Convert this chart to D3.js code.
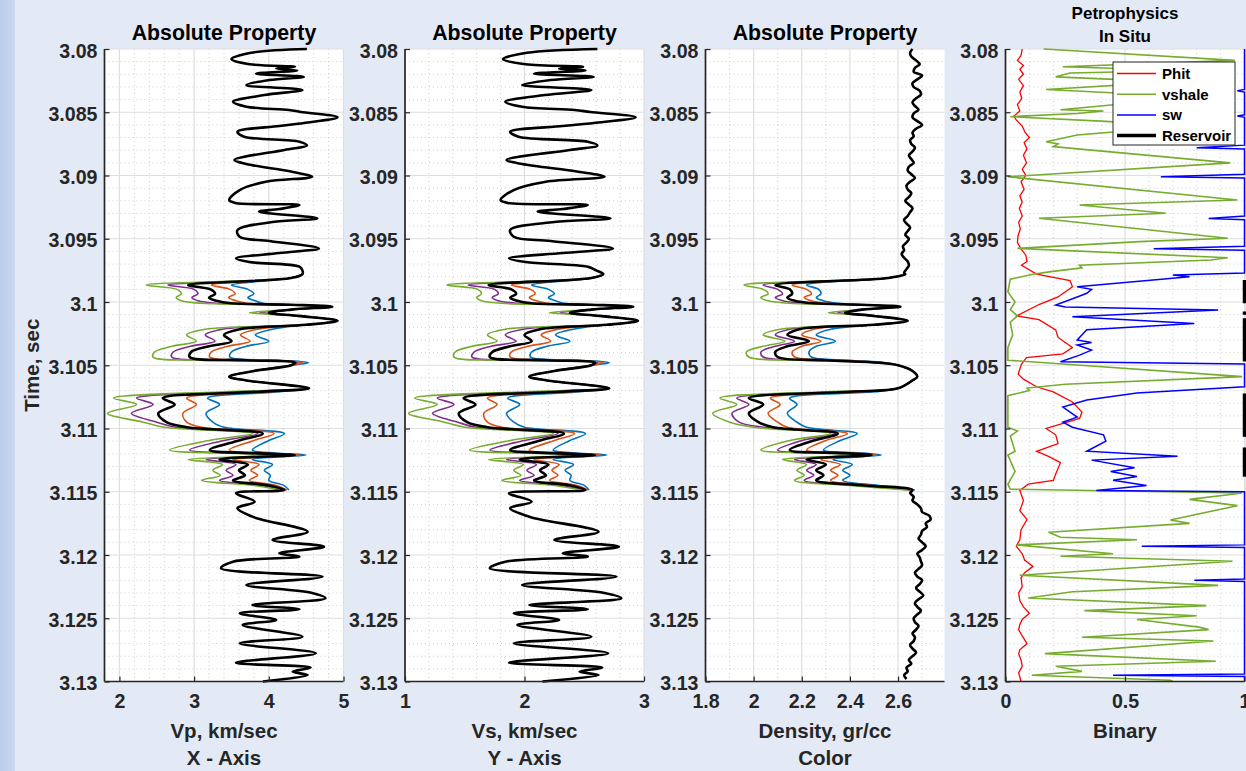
<!DOCTYPE html>
<html>
<head>
<meta charset="utf-8">
<script src="https://cdn.jsdelivr.net/npm/d3@7"></script>
<style>
  html, body { margin: 0; padding: 0; background: #e4eaf5; }
  svg { display: block; font-family: "Liberation Sans", Arial, Helvetica, sans-serif; }
</style>
</head>
<body>
<svg id="chart" width="1246" height="771"></svg>
<script>
// ---------------- Time axis ----------------
const timeTicks = [3.08, 3.085, 3.09, 3.095, 3.1, 3.105, 3.11, 3.115, 3.12, 3.125, 3.13];
const timeTickLabels = ["3.08", "3.085", "3.09", "3.095", "3.1", "3.105", "3.11", "3.115", "3.12", "3.125", "3.13"];

// ---------------- X tick labels per track ----------------
const vpTicks = [2, 3, 4, 5];
const vsTicks = [1, 2, 3];
const rhoTicks = [1.8, 2, 2.2, 2.4, 2.6];
const binTicks = [0, 0.5, 1];
const vpTickLabels = ["2", "3", "4", "5"];
const vsTickLabels = ["1", "2", "3"];
const rhoTickLabels = ["1.8", "2", "2.2", "2.4", "2.6"];
const binTickLabels = ["0", "0.5", "1"];

// ---------------- In-situ logs above the substituted interval ----------------
const vpTopTime = [3.0800, 3.0803, 3.0808, 3.0812, 3.0814, 3.08155, 3.0817, 3.08195, 3.0822, 3.08245, 3.08285, 3.08324, 3.08364, 3.08417, 3.08456, 3.08482, 3.08498, 3.0854, 3.08585, 3.08609, 3.08654, 3.08693, 3.08733, 3.08763, 3.08798, 3.08877, 3.08909, 3.0897, 3.0901, 3.09049, 3.09115, 3.09194, 3.09217, 3.09233, 3.09265, 3.09286, 3.09338, 3.09368, 3.09431, 3.09484, 3.09518, 3.09576, 3.09613, 3.09655, 3.09684, 3.09721, 3.0975];
const vpTop = [4.51, 3.76, 3.50, 3.74, 4.35, 4.10, 4.38, 3.83, 4.47, 4.01, 3.70, 4.45, 3.94, 3.52, 3.70, 4.27, 4.43, 4.92, 4.47, 4.14, 3.58, 3.67, 4.41, 4.51, 4.21, 3.54, 3.70, 4.31, 4.58, 3.96, 3.61, 3.47, 3.55, 4.41, 4.14, 3.87, 4.65, 4.05, 3.58, 3.61, 4.01, 4.67, 4.14, 3.56, 3.74, 4.41, 4.45];
const vsTop = [2.61, 2.02, 1.82, 2.01, 2.49, 2.29, 2.51, 2.08, 2.58, 2.22, 1.98, 2.56, 2.17, 1.84, 1.98, 2.42, 2.55, 2.93, 2.58, 2.32, 1.88, 1.95, 2.53, 2.61, 2.38, 1.85, 1.98, 2.45, 2.67, 2.18, 1.91, 1.80, 1.86, 2.53, 2.32, 2.11, 2.72, 2.25, 1.88, 1.91, 2.22, 2.74, 2.32, 1.87, 2.01, 2.53, 2.60];

// ---------------- In-situ logs below the substituted interval ----------------
const vpBaseTime = [3.11512, 3.11579, 3.1163, 3.11697, 3.11723, 3.11816, 3.11881, 3.11934, 3.11987, 3.12013, 3.12053, 3.12105, 3.12171, 3.12237, 3.1230, 3.12342, 3.12395, 3.12429, 3.12461, 3.12514, 3.12553, 3.12646, 3.12698, 3.12777, 3.12851, 3.1289, 3.12922, 3.12949, 3.1300];
const vpBase = [3.56, 3.81, 3.58, 3.78, 3.92, 4.52, 4.05, 4.74, 4.14, 4.41, 3.52, 3.36, 4.72, 3.70, 4.58, 4.76, 3.78, 4.41, 3.61, 4.10, 3.65, 4.45, 3.61, 4.63, 3.56, 4.56, 4.32, 4.52, 3.92];
const vsBase = [1.87, 2.06, 1.88, 2.04, 2.15, 2.62, 2.25, 2.79, 2.32, 2.53, 1.84, 1.71, 2.77, 1.98, 2.67, 2.81, 2.04, 2.53, 1.91, 2.29, 1.94, 2.56, 1.91, 2.70, 1.87, 2.65, 2.46, 2.62, 2.15];

// Density log, regularly sampled outside the substituted interval
const rhoStep = 0.0003;
const rhoTopStart = 3.0800;
const rhoTop = [2.66, 2.65, 2.655, 2.675, 2.69, 2.67, 2.665, 2.70, 2.68, 2.66, 2.665, 2.69, 2.695, 2.675, 2.66, 2.67, 2.685, 2.665, 2.66, 2.68, 2.70, 2.675, 2.66, 2.665, 2.65, 2.655, 2.67, 2.66, 2.645, 2.655, 2.665, 2.645, 2.64, 2.655, 2.67, 2.65, 2.635, 2.64, 2.655, 2.645, 2.63, 2.645, 2.66, 2.65, 2.64, 2.625, 2.635, 2.65, 2.64, 2.63, 2.645, 2.635, 2.62, 2.625, 2.615, 2.625, 2.64, 2.645, 2.635, 2.625];
const rhoBaseStart = 3.1151;
const rhoBase = [2.65, 2.665, 2.66, 2.68, 2.695, 2.70, 2.73, 2.735, 2.715, 2.72, 2.70, 2.695, 2.685, 2.70, 2.715, 2.70, 2.68, 2.69, 2.695, 2.70, 2.685, 2.67, 2.68, 2.70, 2.69, 2.675, 2.69, 2.705, 2.685, 2.67, 2.68, 2.695, 2.68, 2.665, 2.67, 2.685, 2.675, 2.66, 2.67, 2.665, 2.65, 2.66, 2.675, 2.66, 2.645, 2.655, 2.635, 2.64, 2.625, 2.635];

// ---------------- Substituted interval: in-situ (black) and four fluid cases ----------------
const subTime = [3.0978, 3.0981, 3.09866, 3.0990, 3.09935, 3.09965, 3.0999, 3.1001, 3.10022, 3.10037, 3.1006, 3.10085, 3.1011, 3.10148, 3.1018, 3.10215, 3.1026, 3.1031, 3.1035, 3.10395, 3.10435, 3.1046, 3.1048, 3.1050, 3.10545, 3.1059, 3.1062, 3.10682, 3.1071, 3.1076, 3.1081, 3.1088, 3.1095, 3.1099, 3.1104, 3.11095, 3.1117, 3.11195, 3.1121, 3.11245, 3.11285, 3.1133, 3.1137, 3.1141, 3.1145, 3.11486];

const vpInSitu = [4.45, 4.30, 2.92, 3.22, 3.28, 3.20, 3.30, 3.50, 4.30, 4.85, 4.30, 4.00, 4.40, 4.92, 4.50, 3.61, 3.40, 3.50, 3.20, 2.96, 2.94, 3.70, 4.35, 4.30, 3.80, 3.47, 3.70, 4.54, 3.85, 2.58, 2.74, 2.52, 2.63, 2.90, 3.92, 3.60, 3.21, 3.80, 4.35, 3.34, 3.72, 3.60, 3.68, 3.52, 4.00, 4.21];
const vpGreen = [4.45, 4.30, 2.36, 2.77, 2.83, 2.76, 2.83, 3.10, 4.30, 4.85, 4.30, 3.74, 4.40, 4.92, 4.50, 3.15, 2.90, 3.03, 2.70, 2.47, 2.45, 3.20, 4.35, 4.30, 3.80, 3.47, 3.70, 4.54, 3.40, 1.92, 2.23, 1.84, 2.32, 2.60, 3.78, 3.20, 2.67, 3.50, 4.30, 2.92, 3.38, 3.25, 3.35, 3.10, 3.80, 4.15];
const vpPurple = [4.45, 4.30, 2.65, 3.00, 3.05, 2.97, 3.05, 3.30, 4.30, 4.85, 4.30, 3.88, 4.40, 4.92, 4.50, 3.38, 3.15, 3.28, 2.95, 2.72, 2.70, 3.45, 4.38, 4.30, 3.80, 3.47, 3.70, 4.54, 3.60, 2.23, 2.45, 2.16, 2.50, 2.75, 3.85, 3.40, 2.94, 3.65, 4.32, 3.16, 3.56, 3.43, 3.52, 3.34, 3.90, 4.18];
const vpOrange = [4.45, 4.30, 3.23, 3.48, 3.55, 3.46, 3.56, 3.70, 4.30, 4.85, 4.30, 4.02, 4.40, 4.92, 4.50, 3.85, 3.62, 3.75, 3.45, 3.23, 3.21, 3.95, 4.45, 4.30, 3.80, 3.47, 3.70, 4.54, 4.00, 2.90, 3.03, 2.85, 2.90, 3.10, 4.07, 3.80, 3.47, 3.95, 4.42, 3.52, 3.87, 3.76, 3.85, 3.74, 4.10, 4.24];
const vpBlue = [4.45, 4.30, 3.50, 3.72, 3.80, 3.72, 3.82, 3.92, 4.30, 4.85, 4.30, 4.04, 4.40, 4.92, 4.50, 4.05, 3.82, 4.00, 3.70, 3.50, 3.48, 4.15, 4.53, 4.30, 3.80, 3.47, 3.70, 4.54, 4.15, 3.18, 3.34, 3.16, 3.25, 3.40, 4.21, 4.00, 3.78, 4.10, 4.50, 3.78, 4.05, 3.94, 4.02, 4.00, 4.20, 4.27];

const vsInSitu = [2.66, 2.56, 1.70, 1.89, 1.93, 1.88, 1.94, 2.06, 2.56, 2.91, 2.56, 2.38, 2.63, 2.95, 2.69, 2.13, 2.00, 2.06, 1.88, 1.73, 1.71, 2.19, 2.59, 2.56, 2.25, 2.04, 2.19, 2.71, 2.28, 1.49, 1.59, 1.45, 1.52, 1.69, 2.33, 2.13, 1.88, 2.25, 2.59, 1.96, 2.20, 2.13, 2.18, 2.08, 2.38, 2.51];
const vsGreen = [2.66, 2.56, 1.35, 1.61, 1.64, 1.60, 1.64, 1.81, 2.56, 2.91, 2.56, 2.21, 2.63, 2.95, 2.69, 1.84, 1.69, 1.77, 1.56, 1.42, 1.41, 1.88, 2.59, 2.56, 2.25, 2.04, 2.19, 2.71, 2.00, 1.08, 1.27, 1.03, 1.33, 1.50, 2.24, 1.88, 1.54, 2.06, 2.56, 1.70, 1.99, 1.91, 1.97, 1.81, 2.25, 2.47];
const vsPurple = [2.66, 2.56, 1.53, 1.75, 1.78, 1.73, 1.78, 1.94, 2.56, 2.91, 2.56, 2.30, 2.63, 2.95, 2.69, 1.99, 1.84, 1.93, 1.72, 1.58, 1.56, 2.03, 2.61, 2.56, 2.25, 2.04, 2.19, 2.71, 2.13, 1.27, 1.41, 1.23, 1.44, 1.59, 2.28, 2.00, 1.71, 2.16, 2.58, 1.85, 2.10, 2.02, 2.08, 1.96, 2.31, 2.49];
const vsOrange = [2.66, 2.56, 1.89, 2.05, 2.09, 2.04, 2.10, 2.19, 2.56, 2.91, 2.56, 2.39, 2.63, 2.95, 2.69, 2.28, 2.14, 2.22, 2.03, 1.89, 1.88, 2.34, 2.66, 2.56, 2.25, 2.04, 2.19, 2.71, 2.38, 1.69, 1.77, 1.66, 1.69, 1.81, 2.42, 2.25, 2.04, 2.34, 2.64, 2.08, 2.29, 2.23, 2.28, 2.21, 2.44, 2.53];
const vsBlue = [2.66, 2.56, 2.06, 2.20, 2.25, 2.20, 2.26, 2.33, 2.56, 2.91, 2.56, 2.40, 2.63, 2.95, 2.69, 2.41, 2.26, 2.38, 2.19, 2.06, 2.05, 2.47, 2.71, 2.56, 2.25, 2.04, 2.19, 2.71, 2.47, 1.86, 1.96, 1.85, 1.91, 2.00, 2.51, 2.38, 2.24, 2.44, 2.69, 2.24, 2.41, 2.34, 2.39, 2.38, 2.50, 2.54];

const rhoInSitu = [2.63, 2.56, 2.09, 2.15, 2.16, 2.14, 2.17, 2.25, 2.45, 2.61, 2.45, 2.38, 2.50, 2.64, 2.50, 2.19, 2.14, 2.23, 2.14, 2.09, 2.10, 2.30, 2.52, 2.60, 2.66, 2.68, 2.66, 2.60, 2.40, 1.98, 2.04, 1.98, 2.02, 2.08, 2.35, 2.25, 2.15, 2.38, 2.49, 2.22, 2.30, 2.26, 2.29, 2.26, 2.46, 2.66];
const rhoGreen = [2.63, 2.56, 1.96, 2.04, 2.06, 2.03, 2.06, 2.15, 2.45, 2.61, 2.45, 2.31, 2.50, 2.64, 2.50, 2.11, 2.04, 2.13, 2.04, 1.97, 1.98, 2.20, 2.52, 2.60, 2.66, 2.68, 2.66, 2.60, 2.30, 1.86, 1.93, 1.83, 1.90, 2.00, 2.32, 2.15, 2.03, 2.30, 2.47, 2.12, 2.22, 2.18, 2.21, 2.17, 2.40, 2.64];
const rhoPurple = [2.63, 2.56, 2.04, 2.10, 2.12, 2.09, 2.12, 2.20, 2.45, 2.61, 2.45, 2.35, 2.50, 2.64, 2.50, 2.15, 2.09, 2.17, 2.09, 2.03, 2.04, 2.25, 2.53, 2.60, 2.66, 2.68, 2.66, 2.60, 2.35, 1.93, 1.98, 1.91, 1.94, 2.04, 2.34, 2.20, 2.10, 2.34, 2.48, 2.17, 2.26, 2.22, 2.25, 2.21, 2.43, 2.65];
const rhoOrange = [2.63, 2.56, 2.16, 2.22, 2.24, 2.21, 2.24, 2.30, 2.45, 2.61, 2.45, 2.38, 2.50, 2.64, 2.50, 2.25, 2.20, 2.28, 2.20, 2.16, 2.17, 2.35, 2.54, 2.60, 2.66, 2.68, 2.66, 2.60, 2.45, 2.07, 2.11, 2.06, 2.10, 2.14, 2.39, 2.30, 2.22, 2.42, 2.51, 2.28, 2.36, 2.32, 2.35, 2.32, 2.49, 2.66];
const rhoBlue = [2.63, 2.56, 2.22, 2.27, 2.28, 2.26, 2.29, 2.35, 2.45, 2.61, 2.45, 2.38, 2.50, 2.64, 2.50, 2.32, 2.26, 2.34, 2.26, 2.23, 2.24, 2.40, 2.55, 2.60, 2.66, 2.68, 2.66, 2.60, 2.50, 2.15, 2.18, 2.14, 2.18, 2.22, 2.43, 2.36, 2.29, 2.46, 2.53, 2.33, 2.41, 2.37, 2.40, 2.37, 2.52, 2.67];

// ---------------- Petrophysics track ----------------
const phitTime = [3.0800, 3.0805, 3.0809, 3.0813, 3.0816, 3.0820, 3.0824, 3.0829, 3.0834, 3.0839, 3.0844, 3.0849, 3.0853, 3.0856, 3.0861, 3.0866, 3.0870, 3.0874, 3.0879, 3.0884, 3.0890, 3.0895, 3.0900, 3.0905, 3.0911, 3.0916, 3.0921, 3.0926, 3.0932, 3.0937, 3.0942, 3.0948, 3.0953, 3.0958, 3.0963, 3.0968,
  3.0971, 3.0978, 3.0983, 3.0988, 3.0996, 3.1002, 3.1011, 3.1014, 3.1022, 3.1028, 3.1032, 3.1036, 3.1041, 3.1044, 3.1049, 3.1057, 3.1061, 3.1067, 3.1071, 3.1079, 3.1087, 3.1092, 3.1100, 3.1105, 3.1112, 3.1118, 3.1122, 3.1127, 3.1136, 3.1141, 3.1144, 3.1149, 3.1157, 3.1165,
  3.1172, 3.1180, 3.1188, 3.1193, 3.1199, 3.1204, 3.1209, 3.1214, 3.1218, 3.1225, 3.1230, 3.1236, 3.1241, 3.1246, 3.1251, 3.1255, 3.1259, 3.1264, 3.1270, 3.1275, 3.1278, 3.1283, 3.1288, 3.1293, 3.1300];
const phit = [0.07, 0.065, 0.05, 0.075, 0.06, 0.075, 0.055, 0.075, 0.06, 0.068, 0.05, 0.06, 0.035, 0.045, 0.07, 0.082, 0.10, 0.078, 0.09, 0.075, 0.088, 0.07, 0.085, 0.065, 0.078, 0.06, 0.07, 0.058, 0.07, 0.055, 0.062, 0.052, 0.05, 0.065, 0.085, 0.09,
  0.067, 0.13, 0.27, 0.28, 0.22, 0.14, 0.047, 0.14, 0.21, 0.22, 0.25, 0.28, 0.24, 0.088, 0.067, 0.053, 0.075, 0.13, 0.20, 0.28, 0.32, 0.31, 0.17, 0.21, 0.22, 0.13, 0.18, 0.23, 0.21, 0.20, 0.095, 0.06, 0.075, 0.06,
  0.09, 0.065, 0.06, 0.045, 0.07, 0.08, 0.115, 0.08, 0.065, 0.07, 0.055, 0.06, 0.075, 0.10, 0.07, 0.06, 0.055, 0.07, 0.09, 0.06, 0.055, 0.065, 0.07, 0.055, 0.065];

const vshaleTime = [3.0800, 3.0809, 3.0814, 3.0817, 3.0819, 3.0822, 3.0826, 3.0832, 3.0838, 3.0848, 3.0849, 3.0851, 3.08535, 3.0857, 3.0861, 3.0868, 3.08733, 3.0875, 3.08772, 3.0890, 3.0901, 3.09194, 3.09233, 3.09299, 3.09338, 3.09496, 3.09523, 3.09576, 3.0965, 3.09668, 3.0971, 3.0973, 3.0976, 3.0978, 3.0982, 3.0992, 3.1000, 3.1006, 3.1011, 3.1016, 3.1026, 3.1036, 3.1046, 3.1049, 3.1059, 3.1065, 3.1068, 3.1070, 3.1074, 3.1085, 3.1099, 3.1102, 3.1106, 3.1118, 3.1121, 3.1134, 3.1144, 3.1148, 3.1151, 3.1152, 3.1156, 3.1161, 3.11723, 3.1175, 3.1182, 3.1186, 3.1188, 3.1192, 3.1199, 3.1201, 3.1205, 3.1216, 3.1224, 3.1229, 3.1234, 3.1240, 3.1244, 3.1248, 3.1251, 3.1257, 3.1259, 3.1265, 3.1268, 3.1278, 3.1284, 3.1288, 3.1292, 3.1295, 3.1299, 3.1300];
const vshale = [0.16, 0.96, 0.24, 0.75, 0.27, 0.21, 0.70, 0.17, 0.80, 0.23, 0.41, 0.30, 0.02, 0.40, 0.75, 0.30, 0.17, 0.22, 0.20, 0.94, 0.01, 0.97, 0.31, 0.67, 0.14, 0.93, 0.56, 0.05, 0.93, 0.86, 0.31, 0.32, 0.19, 0.115, 0.02, 0.01, 0.04, 0.02, 0.05, 0.02, 0.03, 0.01, 0.01, 0.24, 0.99, 0.25, 0.09, 0.10, 0.01, 0.01, 0.01, 0.05, 0.02, 0.04, 0.01, 0.04, 0.01, 0.02, 0.99, 0.95, 0.77, 0.97, 0.69, 0.77, 0.18, 0.23, 0.55, 0.045, 0.45, 0.23, 0.95, 0.06, 0.89, 0.28, 0.095, 0.84, 0.33, 0.80, 0.55, 0.81, 0.85, 0.32, 0.87, 0.165, 0.88, 0.21, 0.32, 0.11, 0.69, 0.70];

const swTime = [3.0800, 3.0832, 3.0833, 3.0834, 3.0852, 3.0853, 3.0854, 3.0876, 3.0878, 3.0879, 3.0899, 3.0901, 3.0902, 3.0932, 3.0934, 3.0935, 3.0956, 3.0958, 3.0959, 3.0977, 3.09787, 3.0980, 3.09879, 3.0990, 3.09931, 3.0996, 3.10024, 3.1004, 3.10063, 3.10116, 3.10169, 3.1022, 3.1030, 3.1032, 3.1034, 3.1038, 3.1042, 3.10472, 3.1049, 3.1067, 3.1070, 3.1072, 3.10775, 3.1083, 3.1091, 3.1095, 3.1099, 3.1105, 3.1110, 3.1118, 3.1122, 3.1125, 3.1131, 3.1134, 3.1138, 3.1141, 3.1145, 3.1149, 3.1150, 3.1192, 3.1193, 3.1194, 3.1219, 3.1220, 3.1221, 3.1294, 3.1295, 3.1296, 3.1300];
const sw = [1, 1, 0.97, 1, 1, 0.97, 1, 1, 0.80, 1, 1, 0.65, 1, 1, 0.85, 1, 1, 0.62, 1, 1, 0.70, 0.77, 0.30, 0.36, 0.34, 0.30, 0.21, 0.25, 0.89, 0.28, 0.79, 0.34, 0.30, 0.36, 0.30, 0.36, 0.31, 0.23, 1, 1, 0.73, 0.55, 0.34, 0.24, 0.30, 0.24, 0.28, 0.41, 0.42, 0.34, 0.72, 0.36, 0.54, 0.44, 0.55, 0.45, 0.59, 0.38, 1, 1, 0.57, 1, 1, 0.79, 1, 1, 0.45, 1, 1];

// Reservoir flag intervals (flag = 1 between top and base)
const reservoirTop = [3.09826, 3.10075, 3.10128, 3.10723, 3.11150];
const reservoirBase = [3.10010, 3.10101, 3.10470, 3.11066, 3.11381];

// ---------------- Layout ----------------
const W = 1246, H = 771;
const plotTop = 49, plotBottom = 681.5, plotW = 239;
const ink = "#262626";
const caseColors = { blue: "#0072BD", orange: "#D95319", purple: "#7E2F8E", green: "#77AC30" };

const svg = d3.select("#chart");
const defs = svg.append("defs");
const grad = defs.append("linearGradient").attr("id", "edge").attr("x1", 0).attr("x2", 1);
grad.append("stop").attr("offset", 0).attr("stop-color", "#bccdea");
grad.append("stop").attr("offset", 1).attr("stop-color", "#cad8ef");

svg.append("rect").attr("width", W).attr("height", H).attr("fill", "#e4eaf5");
svg.append("rect").attr("x", 0).attr("y", 0).attr("width", 15).attr("height", H).attr("fill", "url(#edge)");

const y = d3.scaleLinear().domain([3.08, 3.13]).range([plotTop, plotBottom]);

const tracks = [
  { left: 104.5, domain: [1.8, 5], ticks: vpTicks, labels: vpTickLabels, minor: 0.2, title: ["Absolute Property"], xlabel: ["Vp, km/sec", "X - Axis"] },
  { left: 405, domain: [1, 3], ticks: vsTicks, labels: vsTickLabels, minor: 0.2, title: ["Absolute Property"], xlabel: ["Vs, km/sec", "Y - Axis"] },
  { left: 705.5, domain: [1.8, 2.793], ticks: rhoTicks, labels: rhoTickLabels, minor: 0.1, title: ["Absolute Property"], xlabel: ["Density, gr/cc", "Color"] },
  { left: 1005.5, domain: [0, 1], ticks: binTicks, labels: binTickLabels, minor: 0.1, title: ["Petrophysics", "In Situ"], xlabel: ["Binary"] }
];

function drawFrame(tr, idx) {
  const x = d3.scaleLinear().domain(tr.domain).range([tr.left, tr.left + plotW]);
  const g = svg.append("g");
  g.append("rect").attr("x", tr.left).attr("y", plotTop).attr("width", plotW)
    .attr("height", plotBottom - plotTop).attr("fill", "#ffffff");

  // minor grid
  const yMinor = d3.range(0, 51).map(i => 3.08 + i * 0.001)
    .filter((v, i) => i % 5 !== 0);
  g.selectAll(null).data(yMinor).join("line")
    .attr("x1", tr.left).attr("x2", tr.left + plotW)
    .attr("y1", d => y(d)).attr("y2", d => y(d))
    .attr("stroke", "#c9c9c9").attr("stroke-width", 0.9).attr("stroke-dasharray", "1,3");
  const n0 = Math.ceil(tr.domain[0] / tr.minor - 1e-6), n1 = Math.floor(tr.domain[1] / tr.minor + 1e-6);
  const xMinor = d3.range(n0, n1 + 1).map(k => +(k * tr.minor).toFixed(4))
    .filter(v => !tr.ticks.some(t => Math.abs(t - v) < 1e-6) && v > tr.domain[0] + 1e-6);
  g.selectAll(null).data(xMinor).join("line")
    .attr("x1", d => x(d)).attr("x2", d => x(d))
    .attr("y1", plotTop).attr("y2", plotBottom)
    .attr("stroke", "#c9c9c9").attr("stroke-width", 0.9).attr("stroke-dasharray", "1,3");

  // major grid
  g.selectAll(null).data(timeTicks).join("line")
    .attr("x1", tr.left).attr("x2", tr.left + plotW)
    .attr("y1", d => y(d)).attr("y2", d => y(d))
    .attr("stroke", "#dedede").attr("stroke-width", 1.2);
  g.selectAll(null).data(tr.ticks).join("line")
    .attr("x1", d => x(d)).attr("x2", d => x(d))
    .attr("y1", plotTop).attr("y2", plotBottom)
    .attr("stroke", "#dedede").attr("stroke-width", 1.2);

  return x;
}

function drawAxes(tr, x) {
  const g = svg.append("g");
  const ay = g.append("g").attr("transform", `translate(${tr.left},0)`)
    .call(d3.axisLeft(y).tickValues(timeTicks).tickFormat((d, i) => timeTickLabels[i]).tickSize(-5).tickSizeOuter(0).tickPadding(7));
  const ax = g.append("g").attr("transform", `translate(0,${plotBottom})`)
    .call(d3.axisBottom(x).tickValues(tr.ticks).tickFormat((d, i) => tr.labels[i]).tickSize(-5).tickSizeOuter(0).tickPadding(13));
  [ay, ax].forEach(a => {
    a.select(".domain").remove();
    a.selectAll(".tick line").attr("stroke", ink).attr("stroke-width", 1.2);
    a.selectAll(".tick text").attr("fill", ink).attr("font-size", "19.6px").attr("font-weight", "bold")
      .attr("font-family", "'Liberation Sans', Arial, sans-serif");
  });
  ay.selectAll(".tick text").attr("dy", "0.42em");
  g.append("line").attr("x1", tr.left).attr("x2", tr.left).attr("y1", plotTop).attr("y2", plotBottom)
    .attr("stroke", ink).attr("stroke-width", 1.7);
  g.append("line").attr("x1", tr.left).attr("x2", tr.left + plotW).attr("y1", plotBottom).attr("y2", plotBottom)
    .attr("stroke", ink).attr("stroke-width", 1.7);

  // titles
  const cx = tr.left + plotW / 2;
  if (tr.title.length === 1) {
    g.append("text").attr("x", cx).attr("y", 39.5).attr("text-anchor", "middle")
      .attr("font-size", "21.3px").attr("font-weight", "bold").attr("fill", "#000").text(tr.title[0]);
  } else {
    tr.title.forEach((t, i) => g.append("text").attr("x", cx).attr("y", 19 + i * 22.5).attr("text-anchor", "middle")
      .attr("font-size", "17px").attr("font-weight", "bold").attr("fill", "#000").text(t));
  }
  // x labels
  tr.xlabel.forEach((t, i) => g.append("text").attr("x", cx).attr("y", 738 + i * 27).attr("text-anchor", "middle")
    .attr("font-size", "20.5px").attr("font-weight", "bold").attr("fill", ink).text(t));
}

function pairs(times, vals) { return times.map((t, i) => [t, vals[i]]); }

const smooth = d3.curveCatmullRom.alpha(0.5);

function drawLogTrack(tr, x, idx, inSitu, cases) {
  const clipId = "clip" + idx;
  defs.append("clipPath").attr("id", clipId).append("rect")
    .attr("x", tr.left - 3).attr("y", plotTop - 2).attr("width", plotW + 6).attr("height", plotBottom - plotTop + 4);
  const g = svg.append("g").attr("clip-path", `url(#${clipId})`);
  const line = d3.line().curve(smooth).x(d => x(d[1])).y(d => y(d[0]));
  cases.forEach(c => {
    g.append("path").datum(pairs(subTime, c.values)).attr("d", line)
      .attr("fill", "none").attr("stroke", c.color).attr("stroke-width", 1.6).attr("stroke-linejoin", "round");
  });
  g.append("path").datum(inSitu).attr("d", line)
    .attr("fill", "none").attr("stroke", "#000").attr("stroke-width", 2.6).attr("stroke-linejoin", "round");
}

const xs = tracks.map((tr, i) => drawFrame(tr, i));

// Vp track
drawLogTrack(tracks[0], xs[0], 0,
  pairs(vpTopTime, vpTop).concat(pairs(subTime, vpInSitu), pairs(vpBaseTime, vpBase)),
  [{ values: vpBlue, color: caseColors.blue }, { values: vpOrange, color: caseColors.orange },
   { values: vpPurple, color: caseColors.purple }, { values: vpGreen, color: caseColors.green }]);

// Vs track
drawLogTrack(tracks[1], xs[1], 1,
  pairs(vpTopTime, vsTop).concat(pairs(subTime, vsInSitu), pairs(vpBaseTime, vsBase)),
  [{ values: vsBlue, color: caseColors.blue }, { values: vsOrange, color: caseColors.orange },
   { values: vsPurple, color: caseColors.purple }, { values: vsGreen, color: caseColors.green }]);

// Density track
const rhoTopTime = rhoTop.map((v, i) => rhoTopStart + i * rhoStep);
const rhoBaseTime = rhoBase.map((v, i) => rhoBaseStart + i * rhoStep);
drawLogTrack(tracks[2], xs[2], 2,
  pairs(rhoTopTime, rhoTop).concat(pairs(subTime, rhoInSitu), pairs(rhoBaseTime, rhoBase)),
  [{ values: rhoBlue, color: caseColors.blue }, { values: rhoOrange, color: caseColors.orange },
   { values: rhoPurple, color: caseColors.purple }, { values: rhoGreen, color: caseColors.green }]);

// Petrophysics track
(function () {
  const x = xs[3];
  const g = svg.append("g");
  const line = d3.line().x(d => x(d[1])).y(d => y(d[0]));
  g.append("path").datum(pairs(phitTime, phit)).attr("d", line)
    .attr("fill", "none").attr("stroke", "#ff0000").attr("stroke-width", 1.3);
  g.append("path").datum(pairs(vshaleTime, vshale)).attr("d", line)
    .attr("fill", "none").attr("stroke", caseColors.green).attr("stroke-width", 1.6);
  g.append("path").datum(pairs(swTime, sw)).attr("d", line)
    .attr("fill", "none").attr("stroke", "#0000ff").attr("stroke-width", 1.5);
  g.selectAll(null).data(reservoirTop.map((t, i) => [t, reservoirBase[i]])).join("line")
    .attr("x1", x(1)).attr("x2", x(1))
    .attr("y1", d => y(d[0])).attr("y2", d => y(d[1]))
    .attr("stroke", "#000").attr("stroke-width", 3.5);
})();

tracks.forEach((tr, i) => drawAxes(tr, xs[i]));

// Depth label
svg.append("text").attr("transform", `translate(39,${(plotTop + plotBottom) / 2}) rotate(-90)`)
  .attr("text-anchor", "middle").attr("font-size", "20.5px").attr("font-weight", "bold")
  .attr("fill", ink).text("Time, sec");

// Legend
(function () {
  const lg = svg.append("g").attr("transform", "translate(1113,62)");
  lg.append("rect").attr("width", 122).attr("height", 83).attr("fill", "#fff")
    .attr("stroke", ink).attr("stroke-width", 1);
  const items = [
    { name: "Phit", color: "#ff0000", w: 1.3 },
    { name: "vshale", color: caseColors.green, w: 1.6 },
    { name: "sw", color: "#0000ff", w: 1.5 },
    { name: "Reservoir", color: "#000", w: 3.5 }
  ];
  items.forEach((it, i) => {
    const cy = 11.5 + i * 20.7;
    lg.append("line").attr("x1", 4).attr("x2", 43).attr("y1", cy).attr("y2", cy)
      .attr("stroke", it.color).attr("stroke-width", it.w);
    lg.append("text").attr("x", 49).attr("y", cy + 5.3).attr("font-size", "15px").attr("font-weight", "bold")
      .attr("fill", "#000").text(it.name);
  });
})();
</script>
</body>
</html>
